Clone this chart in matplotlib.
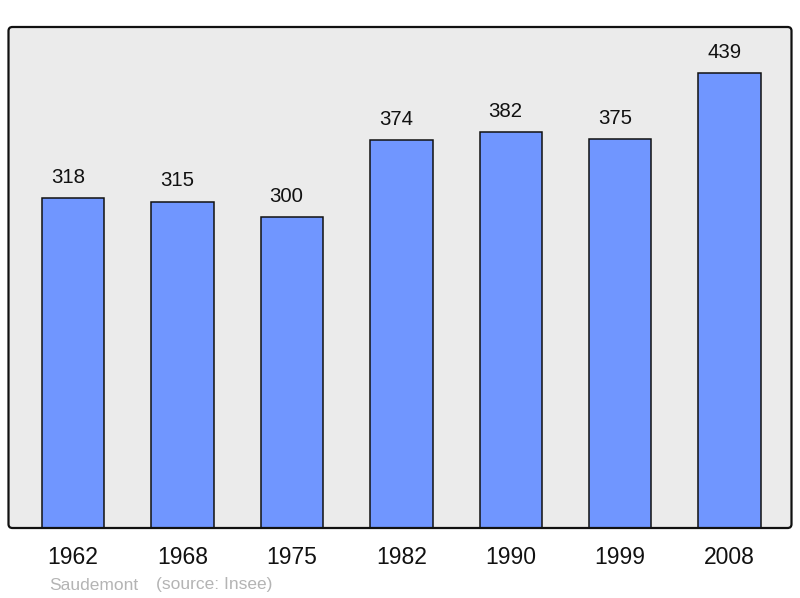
import matplotlib
matplotlib.use("Agg")
import matplotlib.pyplot as plt
from matplotlib.patches import FancyBboxPatch
import numpy as np

years = ["1962", "1968", "1975", "1982", "1990", "1999", "2008"]
population = [318, 315, 300, 374, 382, 375, 439]
town = "Saudemont"
source = "(source: Insee)"

plt.rcParams['font.family'] = ['Liberation Sans', 'DejaVu Sans']

fig = plt.figure(figsize=(8, 5.98), dpi=100)
ax = fig.add_axes([8.5 / 800, 70 / 598, 783 / 800, 501 / 598])
ax.set_facecolor('none')
for s in ax.spines.values():
    s.set_visible(False)

aspect = 783 / 501
bg = FancyBboxPatch((0, 0), 1, 1, boxstyle="round,pad=0,rounding_size=0.005",
                    mutation_aspect=aspect, transform=ax.transAxes,
                    facecolor='#ebebeb', edgecolor='none', zorder=0, clip_on=False)
ax.add_patch(bg)
frame = FancyBboxPatch((0, 0), 1, 1, boxstyle="round,pad=0,rounding_size=0.005",
                       mutation_aspect=aspect, transform=ax.transAxes,
                       facecolor='none', edgecolor='#111111', linewidth=1.6,
                       zorder=5, clip_on=False)
ax.add_patch(frame)

x = np.arange(len(years))
ax.bar(x, population, width=0.571, color='#7096ff', edgecolor='#111111',
       linewidth=1.1, zorder=2)

# value labels sit a little left of the bar centre in the original
for xi, v in zip(x, population):
    ax.annotate(str(v), (xi, v), xytext=(-3.8, 8), textcoords='offset points',
                ha='center', va='bottom', fontsize=14.7, color='#111111')

ax.set_xlim(-0.589, 6.565)
ax.set_ylim(0, 483.4)
ax.set_yticks([])
ax.set_xticks(x)
ax.set_xticklabels(years, fontsize=16.5, color='#111111')
ax.tick_params(axis='x', length=0, pad=13)

fig.text(49 / 800, 1 - 585 / 598, town, fontsize=12.5, color='#b4b4b4',
         ha='left', va='center')
fig.text(156 / 800, 1 - 585 / 598, source, fontsize=12.5, color='#b4b4b4',
         ha='left', va='center')

fig.savefig("out.png", dpi=100)
